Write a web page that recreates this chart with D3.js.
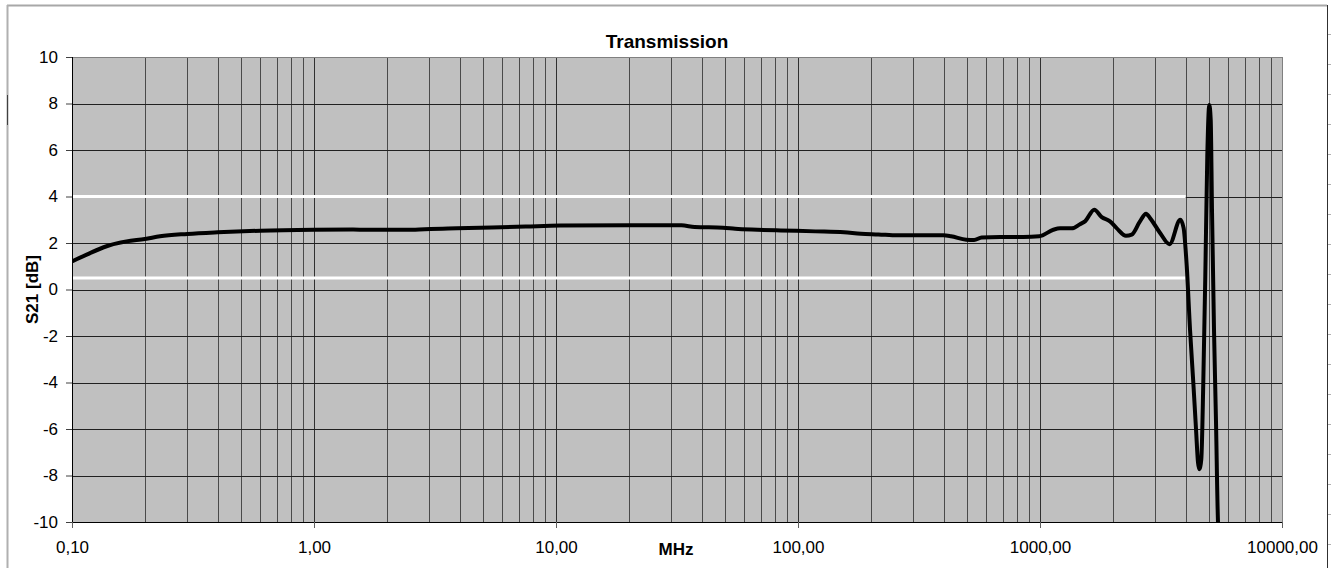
<!DOCTYPE html>
<html>
<head>
<meta charset="utf-8">
<script src="https://cdn.jsdelivr.net/npm/d3@7"></script>
<style>
  html, body { margin: 0; padding: 0; background: #fff; }
  svg { display: block; font-family: Arial, "Liberation Sans", sans-serif; }
  svg text { font-family: Arial, "Liberation Sans", sans-serif; }
</style>
</head>
<body>
<svg id="chart" width="1335" height="568"></svg>
<script>
// ---- data ----
const freqMHz = [
  0.1, 0.115, 0.139, 0.168, 0.2, 0.231, 0.3, 0.4, 0.6, 1.0,
  1.45, 1.65, 2.27, 2.62, 3.03, 3.9, 5.43, 7.5, 10.4, 20,
  33, 37.4, 49, 55, 68, 85, 118, 155, 182, 215,
  258, 399, 429, 496, 534, 574, 684, 853, 993, 1135,
  1210, 1353, 1463, 1535, 1676, 1799, 1946, 2073, 2266, 2393,
  2589, 2742, 2850, 3135, 3430, 3800, 3920, 4040, 4168, 4300,
  4412, 4497, 4553, 4640, 4729, 4820, 4912, 5007, 5075, 5137,
  5236, 5337, 5440, 5546
];
const s21dB = [
  1.21, 1.50, 1.86, 2.07, 2.17, 2.29, 2.39, 2.46, 2.53, 2.57,
  2.58, 2.57, 2.57, 2.57, 2.60, 2.63, 2.67, 2.71, 2.75, 2.76,
  2.76, 2.69, 2.66, 2.61, 2.57, 2.54, 2.50, 2.46, 2.40, 2.37,
  2.33, 2.33, 2.29, 2.14, 2.13, 2.24, 2.26, 2.26, 2.29, 2.57,
  2.63, 2.63, 2.81, 2.93, 3.43, 3.11, 2.93, 2.64, 2.31, 2.36,
  2.93, 3.26, 3.07, 2.43, 1.95, 3.00, 2.65, 1.00, -1.72, -4.00,
  -6.00, -7.44, -7.73, -7.30, -4.00, 0.57, 5.72, 7.94, 7.30, 3.43,
  -1.72, -5.70, -10.0, -11.0
];
const limitLevels = [4, 0.5];
const limitRange = [0.1, 4000];
const yTicks = [-10, -8, -6, -4, -2, 0, 2, 4, 6, 8, 10];
const xDecades = [0.1, 1, 10, 100, 1000, 10000];
const titleText = "Transmission";
const xTitle = "MHz";
const yTitle = "S21 [dB]";

// ---- layout ----
const L = 72, R = 1282, T = 57, B = 522;
const svg = d3.select("#chart");

const x = d3.scaleLog().domain([0.1, 10000]).range([L, R]);
const y = d3.scaleLinear().domain([-10, 10]).range([B, T]);

// outer frame
svg.append("line").attr("x1", 7).attr("x2", 1327).attr("y1", 5.5).attr("y2", 5.5)
  .attr("stroke", "#a8a8a8").attr("stroke-width", 2);
svg.append("line").attr("x1", 7.5).attr("x2", 7.5).attr("y1", 5).attr("y2", 568)
  .attr("stroke", "#b0b0b0").attr("stroke-width", 2);
svg.append("line").attr("x1", 7.5).attr("x2", 7.5).attr("y1", 95).attr("y2", 125)
  .attr("stroke", "#404040").attr("stroke-width", 1);
svg.append("line").attr("x1", 1327.5).attr("x2", 1327.5).attr("y1", 5).attr("y2", 568)
  .attr("stroke", "#303030").attr("stroke-width", 1);
svg.append("g").selectAll("line").data(d3.range(34, 568, 30)).join("line")
  .attr("x1", 1328).attr("x2", 1331).attr("y1", d => d + 0.5).attr("y2", d => d + 0.5)
  .attr("stroke", "#b0b0b0");

// plot background
svg.append("rect").attr("x", L).attr("y", T).attr("width", R - L).attr("height", B - T)
  .attr("fill", "#c0c0c0");

// vertical grid
const vGrid = x.ticks().filter(v => v > 0.1 && v <= 10000);
svg.append("g").selectAll("line").data(vGrid).join("line")
  .attr("x1", d => Math.round(x(d)) + 0.5).attr("x2", d => Math.round(x(d)) + 0.5)
  .attr("y1", T).attr("y2", B)
  .attr("stroke", d => (Math.abs(Math.log10(d) - Math.round(Math.log10(d))) < 1e-6) ? "#303030" : "#4a4a4a")
  .attr("stroke-width", 1);

// horizontal grid
svg.append("g").selectAll("line").data(yTicks.filter(v => v > -10)).join("line")
  .attr("x1", L).attr("x2", R)
  .attr("y1", d => Math.round(y(d)) + 0.5).attr("y2", d => Math.round(y(d)) + 0.5)
  .attr("stroke", d => d === 10 ? "#808080" : "#202020").attr("stroke-width", 1);

svg.append("line").attr("x1", R + 0.5).attr("x2", R + 0.5).attr("y1", T).attr("y2", B)
  .attr("stroke", "#808080");

// limit lines
svg.append("g").selectAll("line").data(limitLevels).join("line")
  .attr("x1", x(limitRange[0])).attr("x2", x(limitRange[1]))
  .attr("y1", d => y(d)).attr("y2", d => y(d))
  .attr("stroke", "#ffffff").attr("stroke-width", 3);

// clip
svg.append("clipPath").attr("id", "clip").append("rect")
  .attr("x", L).attr("y", T - 2).attr("width", R - L).attr("height", B - T + 2);

const pts = freqMHz.map((f, i) => [f, s21dB[i]]);
const line = d3.line().x(d => x(d[0])).y(d => y(d[1])).curve(d3.curveMonotoneX);
svg.append("path").attr("d", line(pts)).attr("clip-path", "url(#clip)")
  .attr("fill", "none").attr("stroke", "#000").attr("stroke-width", 4)
  .attr("stroke-linejoin", "round").attr("stroke-linecap", "round");

// axes
const fmt = v => d3.format(".2f")(v).replace(".", ",");
const xAxis = d3.axisBottom(x).tickValues(xDecades).tickFormat(fmt).tickSize(6).tickPadding(13);
const gx = svg.append("g").attr("transform", `translate(0,${B})`).call(xAxis);
gx.attr("font-size", null).attr("font-family", null);
gx.select(".domain").attr("stroke", "#000").attr("d", `M${L},0.5H${R}`);
gx.selectAll(".tick line").attr("stroke", "#606060");
gx.selectAll("text").style("font-size", "17px").attr("fill", "#000");

const yAxis = d3.axisLeft(y).tickValues(yTicks).tickFormat(v => String(v)).tickSize(6).tickPadding(8);
const gy = svg.append("g").attr("transform", `translate(${L},0)`).call(yAxis);
gy.attr("font-size", null).attr("font-family", null);
gy.select(".domain").attr("stroke", "#000").attr("d", `M0.5,${T}V${B}`);
gy.selectAll(".tick line").attr("stroke", "#404040");
gy.selectAll("text").style("font-size", "17px").attr("fill", "#000");

// titles
svg.append("text").attr("x", 667).attr("y", 48).attr("text-anchor", "middle")
  .style("font-size", "19px").attr("font-weight", "bold").text(titleText);
svg.append("text").attr("x", 676).attr("y", 555).attr("text-anchor", "middle")
  .style("font-size", "17px").attr("font-weight", "bold").text(xTitle);
svg.append("text").attr("transform", `translate(38,${(T + B) / 2}) rotate(-90)`)
  .attr("text-anchor", "middle").style("font-size", "17px").attr("font-weight", "bold").text(yTitle);
</script>
</body>
</html>
